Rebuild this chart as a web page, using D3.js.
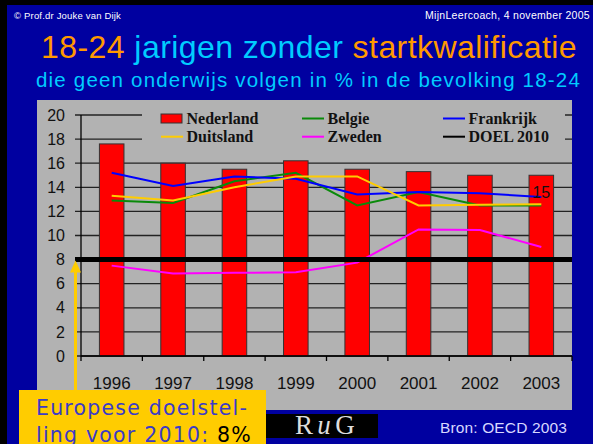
<!DOCTYPE html>
<html>
<head>
<meta charset="utf-8">
<script src="https://cdn.jsdelivr.net/npm/d3@7"></script>
<style>
  body { margin: 0; background: #000; }
  svg { display: block; }
</style>
</head>
<body>
<div id="slide"></div>
<script>
// values (OECD 2003)
const years = [1996, 1997, 1998, 1999, 2000, 2001, 2002, 2003];
const nederland = [17.6, 16.0, 15.5, 16.2, 15.5, 15.3, 15.0, 15.0];
const belgie = [12.9, 12.7, 14.5, 15.2, 12.5, 13.6, 12.5, 12.5];
const frankrijk = [15.2, 14.1, 14.9, 14.7, 13.4, 13.6, 13.5, 13.2];
const duitsland = [13.3, 12.9, 14.0, 14.9, 14.9, 12.5, 12.55, 12.6];
const zweden = [7.5, 6.85, 6.9, 6.95, 7.75, 10.5, 10.45, 9.05];
const doel = 8;
const yTicks = [0, 2, 4, 6, 8, 10, 12, 14, 16, 18, 20];
const labelled = { year: 2003, text: "15" };

const W = 593, H = 444;
const sans = "'Liberation Sans', Arial, sans-serif";
const wide = "'DejaVu Sans', Verdana, sans-serif";
const serif = "'Liberation Serif', 'Times New Roman', serif";
const plot = { left: 81, right: 572, top: 115, bottom: 356 };

const svg = d3.select("#slide")
  .append("svg")
  .attr("width", W)
  .attr("height", H);

// stretch letter spacing so a text line fills the width it has on the slide
function fit(text, width) {
  const n = text.text().length;
  const w = text.node().getComputedTextLength();
  text.attr("letter-spacing", (width - w) / n);
  return text;
}

// slide background
svg.append("rect").attr("width", W).attr("height", H).attr("fill", "#000");
svg.append("rect").attr("x", 7).attr("y", 5).attr("width", W - 7).attr("height", H - 5).attr("fill", "#0000A0");

svg.append("text")
    .attr("x", 14).attr("y", 18.5)
    .attr("font-family", sans).attr("font-size", 9.5).attr("fill", "#fff")
    .text("© Prof.dr Jouke van Dijk")
    .call(fit, 107);
svg.append("text")
    .attr("x", 425).attr("y", 18.5)
    .attr("font-family", sans).attr("font-size", 10.5).attr("fill", "#fff")
    .text("MijnLeercoach, 4 november 2005")
    .call(fit, 165);

const title = svg.append("text")
    .attr("x", 41).attr("y", 58)
    .attr("font-family", sans).attr("font-size", 32);
title.append("tspan").attr("fill", "#FF9900").text("18-24 ");
title.append("tspan").attr("fill", "#00CCFF").text("jarigen zonder ");
title.append("tspan").attr("fill", "#FF9900").text("startkwalificatie");
fit(title, 536);

svg.append("text")
    .attr("x", 36).attr("y", 87)
    .attr("font-family", sans).attr("font-size", 20.5).attr("fill", "#00CCFF")
    .text("die geen onderwijs volgen in % in de bevolking 18-24")
    .call(fit, 545);

// chart panel
svg.append("rect")
    .attr("x", 37).attr("y", 100)
    .attr("width", 535).attr("height", 310)
    .attr("fill", "#B2B2B2");

const x = d3.scaleBand()
  .domain(years)
  .range([plot.left, plot.right]);
const y = d3.scaleLinear()
  .domain([0, 20])
  .range([plot.bottom, plot.top]);
const cx = d => x(d) + x.bandwidth() / 2;

// gridlines with outside ticks
svg.append("g")
  .selectAll("line")
  .data(yTicks)
  .join("line")
    .attr("x1", plot.left - 6).attr("x2", plot.right)
    .attr("y1", d => y(d)).attr("y2", d => y(d))
    .attr("stroke", "#222").attr("stroke-width", 1.3);

svg.append("g")
  .selectAll("text")
  .data(yTicks)
  .join("text")
    .attr("x", 65).attr("y", d => y(d))
    .attr("dy", "0.35em")
    .attr("text-anchor", "end")
    .attr("font-family", sans).attr("font-size", 16).attr("fill", "#111")
    .text(d => d);

// bars
svg.append("g")
  .selectAll("rect")
  .data(years)
  .join("rect")
    .attr("x", d => x(d) + x.bandwidth() * 0.3)
    .attr("width", x.bandwidth() * 0.4)
    .attr("y", (d, i) => y(nederland[i]))
    .attr("height", (d, i) => y(0) - y(nederland[i]))
    .attr("fill", "#FF0000")
    .attr("stroke", "#333").attr("stroke-width", 1);

// axes lines
svg.append("line")
    .attr("x1", plot.left).attr("x2", plot.left)
    .attr("y1", plot.top).attr("y2", plot.bottom)
    .attr("stroke", "#000").attr("stroke-width", 1.3);
svg.append("line")
    .attr("x1", plot.left).attr("x2", plot.right)
    .attr("y1", plot.bottom).attr("y2", plot.bottom)
    .attr("stroke", "#000").attr("stroke-width", 1.3);

svg.append("g")
  .selectAll("line")
  .data(years.map(d => x(d)).concat([plot.right]))
  .join("line")
    .attr("x1", d => d).attr("x2", d => d)
    .attr("y1", plot.bottom).attr("y2", plot.bottom + 5)
    .attr("stroke", "#000").attr("stroke-width", 1.3);

svg.append("g")
  .selectAll("text")
  .data(years)
  .join("text")
    .attr("x", d => cx(d)).attr("y", 389)
    .attr("text-anchor", "middle")
    .attr("font-family", sans).attr("font-size", 17).attr("fill", "#111")
    .text(d => d);

// series lines
const series = [
  { name: "Belgie", values: belgie, color: "#0A8A0A" },
  { name: "Frankrijk", values: frankrijk, color: "#0000FF" },
  { name: "Duitsland", values: duitsland, color: "#FFCC00" },
  { name: "Zweden", values: zweden, color: "#FF00FF" }
];
const line = d3.line()
  .x((d, i) => cx(years[i]))
  .y(d => y(d));

svg.append("g")
  .selectAll("path")
  .data(series)
  .join("path")
    .attr("d", d => line(d.values))
    .attr("fill", "none")
    .attr("stroke", d => d.color)
    .attr("stroke-width", 2);

// target line
svg.append("line")
    .attr("x1", 75).attr("x2", plot.right)
    .attr("y1", y(doel)).attr("y2", y(doel))
    .attr("stroke", "#000").attr("stroke-width", 5);

// data label
const li = years.indexOf(labelled.year);
svg.append("text")
    .attr("x", cx(labelled.year)).attr("y", y(nederland[li]) + 23)
    .attr("text-anchor", "middle")
    .attr("font-family", sans).attr("font-size", 16).attr("fill", "#111")
    .text(labelled.text);

// legend
const legend = svg.append("g");
legend.append("rect")
    .attr("x", 142).attr("y", 105)
    .attr("width", 423).attr("height", 47)
    .attr("fill", "#B2B2B2");

const legendItems = [
  { name: "Nederland", color: "#FF0000", bar: true },
  { name: "Belgie", color: "#0A8A0A" },
  { name: "Frankrijk", color: "#0000FF" },
  { name: "Duitsland", color: "#FFCC00" },
  { name: "Zweden", color: "#FF00FF" },
  { name: "DOEL 2010", color: "#000" }
];
const li2 = legend.selectAll("g.item")
  .data(legendItems)
  .join("g")
    .attr("class", "item")
    .attr("transform", (d, i) => `translate(${161 + (i % 3) * 141},${i < 3 ? 118.5 : 136.7})`);
li2.filter(d => d.bar).append("rect")
    .attr("x", 0).attr("y", -4.5).attr("width", 21).attr("height", 9)
    .attr("fill", d => d.color).attr("stroke", "#333").attr("stroke-width", 1);
li2.filter(d => !d.bar).append("line")
    .attr("x1", 0).attr("x2", 22).attr("y1", 0).attr("y2", 0)
    .attr("stroke", d => d.color).attr("stroke-width", 2);
li2.append("text")
    .attr("x", 25.5).attr("dy", "0.33em")
    .attr("font-family", serif).attr("font-weight", "bold").attr("font-size", 16)
    .attr("fill", "#111")
    .text(d => d.name);

// arrow from the callout to the target line
svg.append("line")
    .attr("x1", 75.5).attr("x2", 75.5)
    .attr("y1", 392).attr("y2", 268)
    .attr("stroke", "#FFCC00").attr("stroke-width", 3);
svg.append("path")
    .attr("d", `M70,${y(doel) + 13}L81,${y(doel) + 13}L75.5,${y(doel) + 1}Z`)
    .attr("fill", "#FFCC00");

// callout box (its second line runs off the slide, as in the original)
svg.append("rect")
    .attr("x", 19).attr("y", 390)
    .attr("width", 247).attr("height", 60)
    .attr("fill", "#FFCC00");
svg.append("text")
    .attr("x", 36).attr("y", 415)
    .attr("font-family", wide).attr("font-size", 20.5).attr("fill", "#3B3BC8")
    .text("Europese doelstel-")
    .call(fit, 212);
const l2 = svg.append("text")
    .attr("x", 36).attr("y", 442)
    .attr("font-family", wide).attr("font-size", 20.5);
l2.append("tspan").attr("fill", "#3B3BC8").text("ling voor 2010: ");
l2.append("tspan").attr("fill", "#000").text("8%");
fit(l2, 216);

// logo + source
svg.append("rect")
    .attr("x", 266).attr("y", 414)
    .attr("width", 112).attr("height", 24)
    .attr("fill", "#000");
const logo = svg.append("text")
    .attr("x", 295).attr("y", 434)
    .attr("font-family", serif).attr("font-size", 27).attr("fill", "#DDD");
logo.append("tspan").text("R");
logo.append("tspan").attr("font-style", "italic").text("u");
logo.append("tspan").text("G");
fit(logo, 64);

svg.append("text")
    .attr("x", 440).attr("y", 433)
    .attr("font-family", sans).attr("font-size", 15.5).attr("fill", "#D8D8FF")
    .text("Bron: OECD 2003")
    .call(fit, 127);
</script>
</body>
</html>
